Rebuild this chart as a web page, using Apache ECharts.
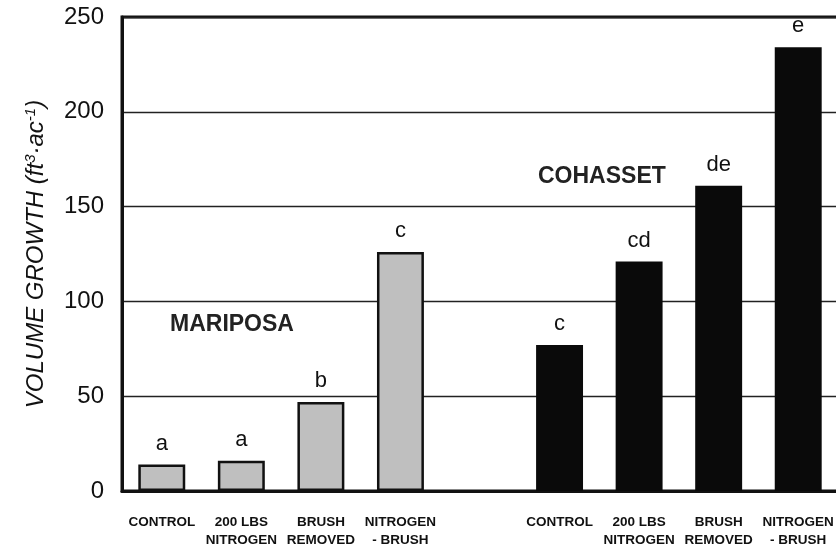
<!DOCTYPE html>
<html>
<head>
<meta charset="utf-8">
<script src="https://cdn.jsdelivr.net/npm/echarts@6/dist/echarts.min.js"></script>
<style>
  html, body { margin: 0; padding: 0; background: #fff; }
  #main { width: 836px; height: 550px; }
</style>
</head>
<body>
<div id="main"></div>
<script>
// categories: 4 Mariposa, one empty slot, 4 Cohasset
var categories = ['CONTROL', '200 LBS\nNITROGEN', 'BRUSH\nREMOVED', 'NITROGEN\n- BRUSH', '',
                  'CONTROL', '200 LBS\nNITROGEN', 'BRUSH\nREMOVED', 'NITROGEN\n- BRUSH'];
var mariposa = [14, 16, 47, 126, '-', '-', '-', '-', '-'];
var cohasset = ['-', '-', '-', '-', '-', 77, 121, 161, 234];
var letters = ['a', 'a', 'b', 'c', '', 'c', 'cd', 'de', 'e'];
var yTicks = [0, 50, 100, 150, 200, 250];

var chart = echarts.init(document.getElementById('main'));
var font = '"Liberation Sans", Arial, sans-serif';

var letterLabel = {
    show: true,
    position: 'top',
    distance: 10,
    fontFamily: font,
    fontSize: 22,
    color: '#111',
    formatter: function (p) { return letters[p.dataIndex]; }
};

var option = {
    backgroundColor: '#fff',
    animation: false,
    grid: {
        // plot runs past the right edge of the page, as in the cropped original
        left: 122, top: 17, width: 716, bottom: 59,
        outerBoundsMode: 'none',
        containLabel: false,
        show: true, borderColor: '#111', borderWidth: 3
    },
    xAxis: {
        type: 'category',
        data: categories,
        axisLine: { show: true, lineStyle: { color: '#111', width: 3 } },
        axisTick: { show: false },
        axisLabel: {
            interval: 0,
            margin: 22,
            fontFamily: font,
            fontWeight: 'bold',
            fontSize: 13.5,
            lineHeight: 18,
            color: '#111'
        }
    },
    yAxis: {
        type: 'value',
        min: yTicks[0],
        max: yTicks[yTicks.length - 1],
        interval: 50,
        name: '{t|VOLUME GROWTH (ft}{s|3}{t|·ac}{s|-1}{t|)}',
        nameLocation: 'middle',
        nameGap: 72,
        nameRotate: 90,
        nameTextStyle: {
            rich: {
                t: { fontFamily: font, fontStyle: 'italic', fontSize: 24, color: '#111' },
                s: { fontFamily: font, fontStyle: 'italic', fontSize: 15, color: '#111', verticalAlign: 'top', padding: [0, 0, 12, 0] }
            }
        },
        axisLine: { show: true, lineStyle: { color: '#111', width: 3 } },
        axisTick: { show: false },
        axisLabel: { fontFamily: font, fontSize: 24, color: '#111', margin: 18 },
        splitLine: { show: true, lineStyle: { color: '#222', width: 1.4 } }
    },
    series: [
        {
            name: 'MARIPOSA',
            type: 'bar',
            data: mariposa,
            barWidth: '59%',
            barGap: '-100%',
            itemStyle: { color: '#bfbfbf', borderColor: '#111', borderWidth: 2.5 },
            label: letterLabel
        },
        {
            name: 'COHASSET',
            type: 'bar',
            data: cohasset,
            barWidth: '59%',
            itemStyle: { color: '#0a0a0a' },
            label: letterLabel
        }
    ],
    graphic: [
        {
            type: 'text', left: 170, top: 313,
            style: { text: 'MARIPOSA', fontFamily: font, fontWeight: 'bold', fontSize: 23, fill: '#222' }
        },
        {
            type: 'text', left: 538, top: 165,
            style: { text: 'COHASSET', fontFamily: font, fontWeight: 'bold', fontSize: 23, fill: '#222' }
        }
    ]
};

chart.setOption(option);
</script>
</body>
</html>
